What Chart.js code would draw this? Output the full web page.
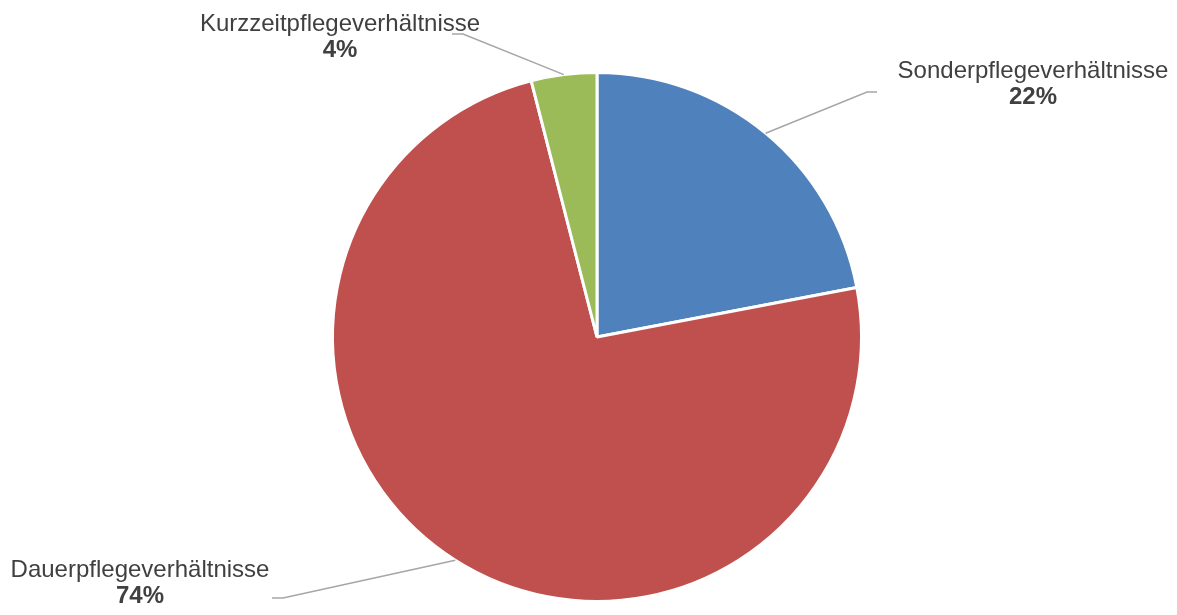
<!DOCTYPE html>
<html>
<head>
<meta charset="utf-8">
<script src="https://cdn.jsdelivr.net/npm/chart.js@4.4.0/dist/chart.umd.min.js"></script>
<style>
  html, body { margin: 0; padding: 0; background: #fff; }
  #wrap { width: 1177px; height: 615px; }
</style>
</head>
<body>
<div id="wrap"><canvas id="pflegeChart" width="1177" height="615"></canvas></div>
<script>
const labels = ["Sonderpflegeverhältnisse", "Dauerpflegeverhältnisse", "Kurzzeitpflegeverhältnisse"];
const shares = [22, 74, 4];
const colors = ["#4F81BD", "#C0504D", "#9BBB59"];

// where each label sits and how its leader line bends
const labelLayout = [
  { elbow: [867, 92], end: [877, 92], text: [1033, 78] },
  { elbow: [283, 598], end: [272, 598], text: [140, 577] },
  { elbow: [463, 34], end: [452, 34], text: [340, 31] },
];

const leaderLabels = {
  id: "leaderLabels",
  afterDatasetsDraw(chart) {
    const ctx = chart.ctx;
    const meta = chart.getDatasetMeta(0);
    const total = shares.reduce((a, b) => a + b, 0);
    meta.data.forEach((arc, i) => {
      const p = arc.getProps(["x", "y", "startAngle", "endAngle", "outerRadius"], true);
      const mid = (p.startAngle + p.endAngle) / 2;
      const sx = p.x + Math.cos(mid) * p.outerRadius;
      const sy = p.y + Math.sin(mid) * p.outerRadius;
      const lay = labelLayout[i];

      ctx.save();
      ctx.strokeStyle = "#A6A6A6";
      ctx.lineWidth = 1.5;
      ctx.beginPath();
      ctx.moveTo(sx, sy);
      ctx.lineTo(lay.elbow[0], lay.elbow[1]);
      ctx.lineTo(lay.end[0], lay.end[1]);
      ctx.stroke();

      ctx.fillStyle = "#404040";
      ctx.textAlign = "center";
      ctx.textBaseline = "alphabetic";
      ctx.font = "24px 'Liberation Sans', Arial, sans-serif";
      ctx.fillText(labels[i], lay.text[0], lay.text[1]);
      ctx.font = "bold 24px 'Liberation Sans', Arial, sans-serif";
      ctx.fillText(Math.round(shares[i] / total * 100) + "%", lay.text[0], lay.text[1] + 26);
      ctx.restore();
    });
  }
};

new Chart(document.getElementById("pflegeChart"), {
  type: "pie",
  data: {
    labels: labels,
    datasets: [{
      data: shares,
      backgroundColor: colors,
      borderColor: "#FFFFFF",
      borderWidth: 3,
    }],
  },
  options: {
    responsive: false,
    animation: false,
    layout: { padding: { left: 331, right: 314, top: 71, bottom: 12 } },
    plugins: {
      legend: { display: false },
      tooltip: { enabled: false },
    },
  },
  plugins: [leaderLabels],
});
</script>
</body>
</html>
